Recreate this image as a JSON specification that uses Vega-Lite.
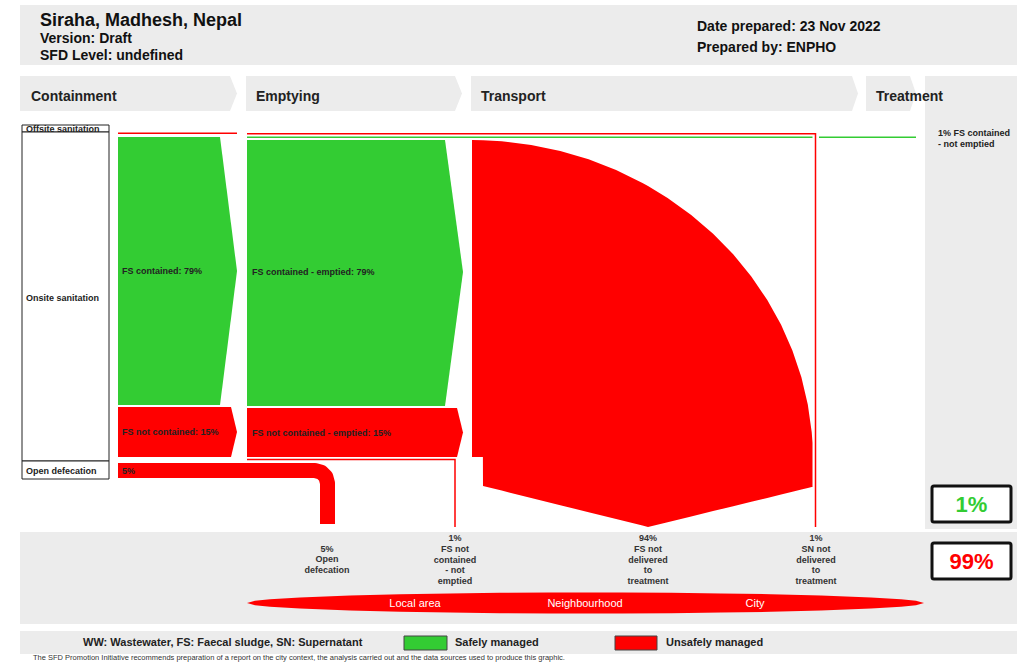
{
  "$schema": "https://vega.github.io/schema/vega-lite/v6.json",
  "width": 1025,
  "height": 662,
  "autosize": {"type": "fit", "contains": "padding"},
  "padding": 0,
  "background": "white",
  "config": {"view": {"stroke": null}, "font": "Liberation Sans"},
  "datasets": {
    "bands": [
      {"x": 20, "y": 5, "x2": 1017, "y2": 65},
      {"x": 925, "y": 76, "x2": 1017, "y2": 529},
      {"x": 20, "y": 532, "x2": 1017, "y2": 624},
      {"x": 20, "y": 631, "x2": 1017, "y2": 654}
    ],
    "chevrons": [
      {"id": "c1", "x": 20, "y": 76, "y2": 111}, {"id": "c1", "x": 230, "y": 76, "y2": 111}, {"id": "c1", "x": 237, "y": 93.5, "y2": 93.5},
      {"id": "c2", "x": 246, "y": 76, "y2": 111}, {"id": "c2", "x": 455, "y": 76, "y2": 111}, {"id": "c2", "x": 462, "y": 93.5, "y2": 93.5},
      {"id": "c3", "x": 471, "y": 76, "y2": 111}, {"id": "c3", "x": 852, "y": 76, "y2": 111}, {"id": "c3", "x": 858, "y": 93.5, "y2": 93.5},
      {"id": "c4", "x": 866, "y": 76, "y2": 111}, {"id": "c4", "x": 910, "y": 76, "y2": 111}, {"id": "c4", "x": 916, "y": 93.5, "y2": 93.5}
    ],
    "boxes": [
      {"x": 22, "y": 125, "x2": 109, "y2": 132},
      {"x": 22, "y": 132, "x2": 109, "y2": 461},
      {"x": 22, "y": 461, "x2": 109, "y2": 479}
    ],
    "flows": [
      {"id": "g1", "status": "safe", "x": 118, "y": 137, "y2": 405},
      {"id": "g1", "status": "safe", "x": 220, "y": 137, "y2": 405},
      {"id": "g1", "status": "safe", "x": 237, "y": 271, "y2": 271},
      {"id": "r1", "status": "unsafe", "x": 118, "y": 407, "y2": 457},
      {"id": "r1", "status": "unsafe", "x": 231, "y": 407, "y2": 457},
      {"id": "r1", "status": "unsafe", "x": 237, "y": 432, "y2": 432},
      {"id": "g2", "status": "safe", "x": 247, "y": 140, "y2": 406},
      {"id": "g2", "status": "safe", "x": 445, "y": 140, "y2": 406},
      {"id": "g2", "status": "safe", "x": 463, "y": 272, "y2": 272},
      {"id": "r2", "status": "unsafe", "x": 247, "y": 408, "y2": 457},
      {"id": "r2", "status": "unsafe", "x": 457, "y": 408, "y2": 457},
      {"id": "r2", "status": "unsafe", "x": 463, "y": 432.5, "y2": 432.5},
      {"id": "fan", "status": "unsafe", "x": 472, "y": 140, "y2": 457},
      {"id": "fan", "status": "unsafe", "x": 482.9, "y": 140.2, "y2": 457},
      {"id": "fan", "status": "unsafe", "x": 483, "y": 140.2, "y2": 486},
      {"id": "fan", "status": "unsafe", "x": 501.7, "y": 141.2, "y2": 490.6},
      {"id": "fan", "status": "unsafe", "x": 531.2, "y": 144.9, "y2": 498},
      {"id": "fan", "status": "unsafe", "x": 560.3, "y": 150.9, "y2": 505.2},
      {"id": "fan", "status": "unsafe", "x": 588.6, "y": 159.3, "y2": 512.2},
      {"id": "fan", "status": "unsafe", "x": 616.1, "y": 170, "y2": 519.1},
      {"id": "fan", "status": "unsafe", "x": 642.5, "y": 182.9, "y2": 525.6},
      {"id": "fan", "status": "unsafe", "x": 648, "y": 185.9, "y2": 527},
      {"id": "fan", "status": "unsafe", "x": 667.6, "y": 197.9, "y2": 522.2},
      {"id": "fan", "status": "unsafe", "x": 691.2, "y": 214.9, "y2": 516.5},
      {"id": "fan", "status": "unsafe", "x": 713.1, "y": 233.7, "y2": 511.1},
      {"id": "fan", "status": "unsafe", "x": 733.2, "y": 254.3, "y2": 506.2},
      {"id": "fan", "status": "unsafe", "x": 751.3, "y": 276.4, "y2": 501.8},
      {"id": "fan", "status": "unsafe", "x": 767.3, "y": 300, "y2": 497.9},
      {"id": "fan", "status": "unsafe", "x": 781.1, "y": 324.8, "y2": 494.5},
      {"id": "fan", "status": "unsafe", "x": 792.4, "y": 350.6, "y2": 491.8},
      {"id": "fan", "status": "unsafe", "x": 801.4, "y": 377.2, "y2": 489.6},
      {"id": "fan", "status": "unsafe", "x": 807.8, "y": 404.4, "y2": 488},
      {"id": "fan", "status": "unsafe", "x": 811.7, "y": 432.1, "y2": 487.1},
      {"id": "fan", "status": "unsafe", "x": 812.5, "y": 442.7, "y2": 487}
    ],
    "thin": [
      {"id": "l1", "status": "unsafe", "seq": 1, "x": 118, "y": 133.3},
      {"id": "l1", "status": "unsafe", "seq": 2, "x": 237, "y": 133.3},
      {"id": "l2", "status": "unsafe", "seq": 1, "x": 247, "y": 133.8},
      {"id": "l2", "status": "unsafe", "seq": 2, "x": 815.5, "y": 133.8},
      {"id": "l2", "status": "unsafe", "seq": 3, "x": 815.5, "y": 527},
      {"id": "l3", "status": "safe", "seq": 1, "x": 247, "y": 137.3},
      {"id": "l3", "status": "safe", "seq": 2, "x": 812.5, "y": 137.3},
      {"id": "l4", "status": "safe", "seq": 1, "x": 819, "y": 137.3},
      {"id": "l4", "status": "safe", "seq": 2, "x": 916, "y": 137.3},
      {"id": "l5", "status": "unsafe", "seq": 1, "x": 247, "y": 459.5},
      {"id": "l5", "status": "unsafe", "seq": 2, "x": 455, "y": 459.5},
      {"id": "l5", "status": "unsafe", "seq": 3, "x": 455, "y": 527}
    ],
    "pipe": [
      {"status": "unsafe", "seq": 1, "x": 118, "y": 470.5},
      {"status": "unsafe", "seq": 2, "x": 315, "y": 470.5},
      {"status": "unsafe", "seq": 3, "x": 321.3, "y": 472.2},
      {"status": "unsafe", "seq": 4, "x": 325.8, "y": 476.8},
      {"status": "unsafe", "seq": 5, "x": 327.5, "y": 483},
      {"status": "unsafe", "seq": 6, "x": 327.5, "y": 524}
    ],
    "lens": [
      {"status": "unsafe", "x": 247, "y": 603, "y2": 603},
      {"status": "unsafe", "x": 255, "y": 600.7, "y2": 605.3},
      {"status": "unsafe", "x": 270, "y": 599.2, "y2": 606.8},
      {"status": "unsafe", "x": 300, "y": 597.4, "y2": 608.6},
      {"status": "unsafe", "x": 350, "y": 595.5, "y2": 610.5},
      {"status": "unsafe", "x": 400, "y": 594.2, "y2": 611.8},
      {"status": "unsafe", "x": 450, "y": 593.4, "y2": 612.6},
      {"status": "unsafe", "x": 500, "y": 592.8, "y2": 613.2},
      {"status": "unsafe", "x": 550, "y": 592.6, "y2": 613.4},
      {"status": "unsafe", "x": 585.5, "y": 592.5, "y2": 613.5},
      {"status": "unsafe", "x": 621, "y": 592.6, "y2": 613.4},
      {"status": "unsafe", "x": 671, "y": 592.8, "y2": 613.2},
      {"status": "unsafe", "x": 721, "y": 593.4, "y2": 612.6},
      {"status": "unsafe", "x": 771, "y": 594.2, "y2": 611.8},
      {"status": "unsafe", "x": 821, "y": 595.5, "y2": 610.5},
      {"status": "unsafe", "x": 871, "y": 597.4, "y2": 608.6},
      {"status": "unsafe", "x": 901, "y": 599.2, "y2": 606.8},
      {"status": "unsafe", "x": 916, "y": 600.7, "y2": 605.3},
      {"status": "unsafe", "x": 924, "y": 603, "y2": 603}
    ],
    "pctboxes": [
      {"x": 932, "y": 486, "x2": 1011, "y2": 522},
      {"x": 932, "y": 543, "x2": 1011, "y2": 579}
    ],
    "swatches": [
      {"status": "safe", "x": 404, "y": 636, "x2": 447, "y2": 650},
      {"status": "unsafe", "x": 615, "y": 636, "x2": 657, "y2": 650}
    ],
    "title": [{"t": "Siraha, Madhesh, Nepal", "x": 40, "y": 20.5}],
    "headinfo": [
      {"t": "Version: Draft", "x": 40, "y": 39},
      {"t": "SFD Level: undefined", "x": 40, "y": 55.5},
      {"t": "Date prepared: 23 Nov 2022", "x": 697, "y": 27},
      {"t": "Prepared by: ENPHO", "x": 697, "y": 48}
    ],
    "stages": [
      {"t": "Containment", "x": 31, "y": 96.5},
      {"t": "Emptying", "x": 256, "y": 96.5},
      {"t": "Transport", "x": 481, "y": 96.5},
      {"t": "Treatment", "x": 876, "y": 96.5}
    ],
    "flowlabels": [
      {"t": "FS contained: 79%", "x": 122, "y": 270.5},
      {"t": "FS not contained: 15%", "x": 122, "y": 431.5},
      {"t": "5%", "x": 122, "y": 470.5},
      {"t": "FS contained - emptied: 79%", "x": 252, "y": 271.5},
      {"t": "FS not contained - emptied: 15%", "x": 252, "y": 432.5},
      {"t": "Offsite sanitation", "x": 26, "y": 128.5},
      {"t": "Onsite sanitation", "x": 26, "y": 297.5},
      {"t": "Open defecation", "x": 26, "y": 471}
    ],
    "sidelabel": [{"t": "1% FS contained\n- not emptied", "x": 938, "y": 128.5}],
    "outlabels": [
      {"t": "5%\nOpen\ndefecation", "x": 327, "y": 544.5},
      {"t": "1%\nFS not\ncontained\n- not\nemptied", "x": 455, "y": 534},
      {"t": "94%\nFS not\ndelivered\nto\ntreatment", "x": 648, "y": 534},
      {"t": "1%\nSN not\ndelivered\nto\ntreatment", "x": 816, "y": 534}
    ],
    "pcts": [
      {"t": "1%", "status": "safe", "x": 971.5, "y": 505},
      {"t": "99%", "status": "unsafe", "x": 971.5, "y": 561.5}
    ],
    "scales": [
      {"t": "Local area", "x": 415, "y": 603.5},
      {"t": "Neighbourhood", "x": 585, "y": 603.5},
      {"t": "City", "x": 755, "y": 603.5}
    ],
    "legendtext": [
      {"t": "WW: Wastewater, FS: Faecal sludge, SN: Supernatant", "x": 83, "y": 643},
      {"t": "Safely managed", "x": 455, "y": 643},
      {"t": "Unsafely managed", "x": 666, "y": 643}
    ],
    "footer": [{"t": "The SFD Promotion Initiative recommends preparation of a report on the city context, the analysis carried out and the data sources used to produce this graphic.", "x": 33, "y": 658}]
  },
  "encoding": {
    "x": {"field": "x", "type": "quantitative", "scale": {"domain": [0, 1025], "nice": false, "zero": false}, "axis": null},
    "y": {"field": "y", "type": "quantitative", "scale": {"domain": [0, 662], "nice": false, "zero": false, "reverse": true}, "axis": null, "stack": null}
  },
  "layer": [
    {"data": {"name": "bands"}, "mark": {"type": "rect", "fill": "#ececec"},
     "encoding": {"x2": {"field": "x2"}, "y2": {"field": "y2"}}},
    {"data": {"name": "chevrons"}, "mark": {"type": "area", "fill": "#ececec"},
     "encoding": {"y2": {"field": "y2"}, "detail": {"field": "id"}}},
    {"data": {"name": "boxes"}, "mark": {"type": "rect", "fill": "white", "stroke": "#222", "strokeWidth": 1},
     "encoding": {"x2": {"field": "x2"}, "y2": {"field": "y2"}}},
    {"data": {"name": "flows"}, "mark": {"type": "area", "opacity": 1},
     "encoding": {"y2": {"field": "y2"}, "detail": {"field": "id"},
       "color": {"field": "status", "type": "nominal", "scale": {"domain": ["safe", "unsafe"], "range": ["#33cc33", "#ff0000"]}, "legend": null}}},
    {"data": {"name": "thin"}, "mark": {"type": "line", "strokeWidth": 1.5},
     "encoding": {"detail": {"field": "id"}, "order": {"field": "seq", "type": "quantitative"},
       "color": {"field": "status", "type": "nominal", "scale": {"domain": ["safe", "unsafe"], "range": ["#33cc33", "#ff0000"]}, "legend": null}}},
    {"data": {"name": "pipe"}, "mark": {"type": "line", "strokeWidth": 15, "strokeCap": "butt", "strokeJoin": "round"},
     "encoding": {"order": {"field": "seq", "type": "quantitative"},
       "color": {"field": "status", "type": "nominal", "scale": {"domain": ["safe", "unsafe"], "range": ["#33cc33", "#ff0000"]}, "legend": null}}},
    {"data": {"name": "lens"}, "mark": {"type": "area", "opacity": 1},
     "encoding": {"y2": {"field": "y2"},
       "color": {"field": "status", "type": "nominal", "scale": {"domain": ["safe", "unsafe"], "range": ["#33cc33", "#ff0000"]}, "legend": null}}},
    {"data": {"name": "pctboxes"}, "mark": {"type": "rect", "fill": "white", "stroke": "#111", "strokeWidth": 3, "cornerRadius": 2},
     "encoding": {"x2": {"field": "x2"}, "y2": {"field": "y2"}}},
    {"data": {"name": "swatches"}, "mark": {"type": "rect", "stroke": "#444", "strokeWidth": 1, "opacity": 1},
     "encoding": {"x2": {"field": "x2"}, "y2": {"field": "y2"},
       "color": {"field": "status", "type": "nominal", "scale": {"domain": ["safe", "unsafe"], "range": ["#33cc33", "#ff0000"]}, "legend": null}}},
    {"data": {"name": "title"}, "mark": {"type": "text", "align": "left", "baseline": "middle", "fontSize": 18, "fontWeight": "bold", "color": "#111"},
     "encoding": {"text": {"field": "t"}}},
    {"data": {"name": "headinfo"}, "mark": {"type": "text", "align": "left", "baseline": "middle", "fontSize": 14, "fontWeight": "bold", "color": "#111"},
     "encoding": {"text": {"field": "t"}}},
    {"data": {"name": "stages"}, "mark": {"type": "text", "align": "left", "baseline": "middle", "fontSize": 14, "fontWeight": "bold", "color": "#222"},
     "encoding": {"text": {"field": "t"}}},
    {"data": {"name": "flowlabels"}, "mark": {"type": "text", "align": "left", "baseline": "middle", "fontSize": 9, "fontWeight": "bold", "color": "#222"},
     "encoding": {"text": {"field": "t"}}},
    {"data": {"name": "sidelabel"}, "mark": {"type": "text", "align": "left", "baseline": "top", "fontSize": 9, "fontWeight": "bold", "color": "#222", "lineBreak": "\n", "lineHeight": 11},
     "encoding": {"text": {"field": "t"}}},
    {"data": {"name": "outlabels"}, "mark": {"type": "text", "align": "center", "baseline": "top", "fontSize": 9, "fontWeight": "bold", "color": "#333", "lineBreak": "\n", "lineHeight": 10.8},
     "encoding": {"text": {"field": "t"}}},
    {"data": {"name": "pcts"}, "mark": {"type": "text", "align": "center", "baseline": "middle", "fontSize": 22, "fontWeight": "bold", "opacity": 1},
     "encoding": {"text": {"field": "t"},
       "color": {"field": "status", "type": "nominal", "scale": {"domain": ["safe", "unsafe"], "range": ["#33cc33", "#ff0000"]}, "legend": null}}},
    {"data": {"name": "scales"}, "mark": {"type": "text", "align": "center", "baseline": "middle", "fontSize": 11, "color": "white"},
     "encoding": {"text": {"field": "t"}}},
    {"data": {"name": "legendtext"}, "mark": {"type": "text", "align": "left", "baseline": "middle", "fontSize": 11, "fontWeight": "bold", "color": "#222"},
     "encoding": {"text": {"field": "t"}}},
    {"data": {"name": "footer"}, "mark": {"type": "text", "align": "left", "baseline": "middle", "fontSize": 7.5, "color": "#333", "clip": true},
     "encoding": {"text": {"field": "t"}}}
  ]
}
